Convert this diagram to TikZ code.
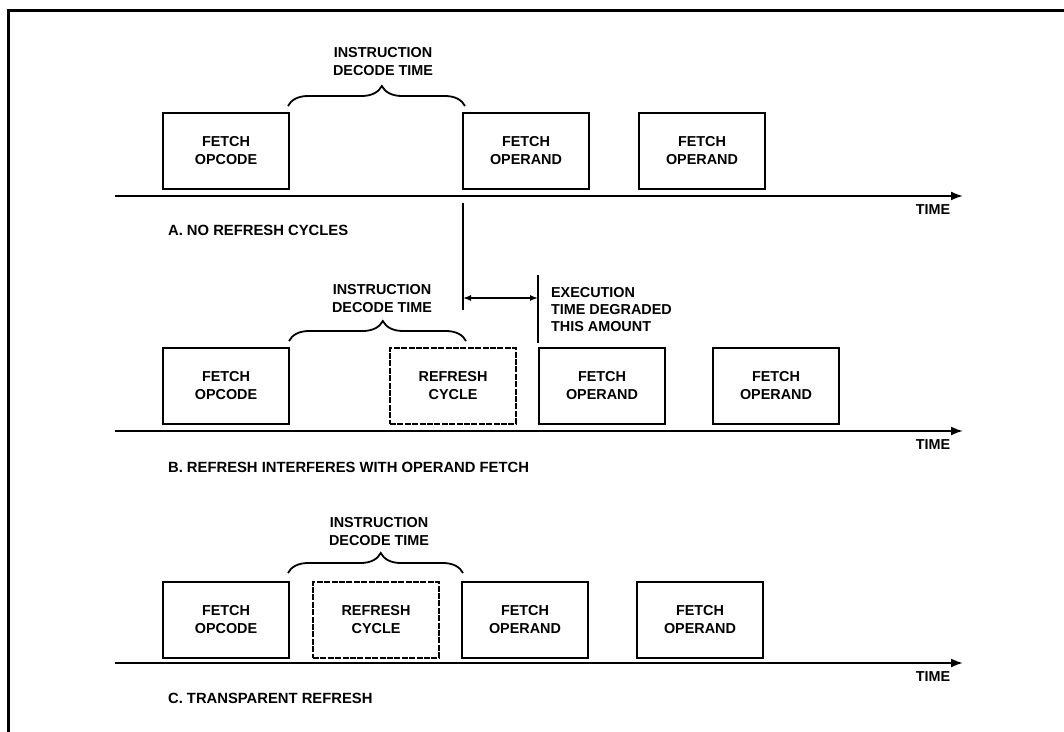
\documentclass[tikz,border=0pt]{standalone}
\usepackage{fontspec}
\setmainfont{Liberation Sans}
\usetikzlibrary{arrows.meta,positioning,decorations.pathreplacing}

\begin{document}
\begin{tikzpicture}[
  x=0.5pt, y=-0.5pt,
  font=\bfseries\fontsize{7.2}{9}\selectfont,
  cyclebox/.style={draw, line width=1pt, minimum width=63pt, minimum height=38pt, align=center, inner sep=1pt},
  refreshbox/.style={cyclebox, dash pattern=on 3pt off 0.7pt},
  timeline/.style={-{Latex[length=6pt, width=4.5pt]}, line width=1pt},
  decode/.style={decorate, decoration={brace, amplitude=10pt, aspect=0.53}, line width=0.9pt},
  partname/.style={anchor=west, font=\bfseries\fontsize{7.4}{9}\selectfont}
]
  \useasboundingbox (0,0) rectangle (1064,732);
  \draw[line width=1.5pt] (1064,10.5) -- (8.5,10.5) -- (8.5,732);

  % A. no refresh cycles
  \node[cyclebox] (opA)   at (226,151) {FETCH\\OPCODE};
  \node[cyclebox] (opdA1) at (526,151) {FETCH\\OPERAND};
  \node[cyclebox] (opdA2) at (702,151) {FETCH\\OPERAND};
  \draw[decode] (288,106) -- (465,106);
  \node[align=center] (decA) at (383,62) {INSTRUCTION\\DECODE TIME};
  \node[partname] (partA) at (161,230) {A. NO REFRESH CYCLES};

  % B. refresh interferes with operand fetch
  \node[cyclebox]   (opB)   at (226,386) {FETCH\\OPCODE};
  \node[refreshbox] (refB)  at (453,386) {REFRESH\\CYCLE};
  \node[cyclebox]   (opdB1) at (602,386) {FETCH\\OPERAND};
  \node[cyclebox]   (opdB2) at (776,386) {FETCH\\OPERAND};
  \draw[decode] (289,341) -- (466,341);
  \node[align=center] (decB) at (382,299) {INSTRUCTION\\DECODE TIME};
  \node[partname] (partB) at (161,467) {B. REFRESH INTERFERES WITH OPERAND FETCH};

  % C. transparent refresh
  \node[cyclebox]   (opC)   at (226,620) {FETCH\\OPCODE};
  \node[refreshbox] (refC)  at (376,620) {REFRESH\\CYCLE};
  \node[cyclebox]   (opdC1) at (525,620) {FETCH\\OPERAND};
  \node[cyclebox]   (opdC2) at (700,620) {FETCH\\OPERAND};
  \draw[decode] (288,573) -- (463,573);
  \node[align=center] (decC) at (379,532) {INSTRUCTION\\DECODE TIME};
  \node[partname] (partC) at (161,698) {C. TRANSPARENT REFRESH};

  % time axes
  \foreach \row/\y in {A/196,B/431,C/663}{
    \coordinate (start\row) at (115,\y);
    \coordinate (end\row) at (963,\y);
    \draw[timeline] (start\row) -- (end\row);
    \node (time\row) at (933,\y+14) {TIME};
  }

  % degradation of execution time
  \coordinate (degTop) at (463,203);
  \coordinate (degBot) at (463,310);
  \coordinate (barTop) at (538,275);
  \coordinate (barBot) at (538,343);
  \draw[line width=1pt] (degTop) -- (degBot);
  \draw[line width=1.3pt] (barTop) -- (barBot);
  \draw[{Latex[length=4pt, width=3pt]}-{Latex[length=4pt, width=3pt]}, line width=0.7pt]
    (463,298) -- (538,298);
  \node[anchor=west, align=left, font=\bfseries\fontsize{7.2}{8.5}\selectfont] (execNote) at (544,310)
    {EXECUTION\\TIME DEGRADED\\THIS AMOUNT};
\end{tikzpicture}
\end{document}
